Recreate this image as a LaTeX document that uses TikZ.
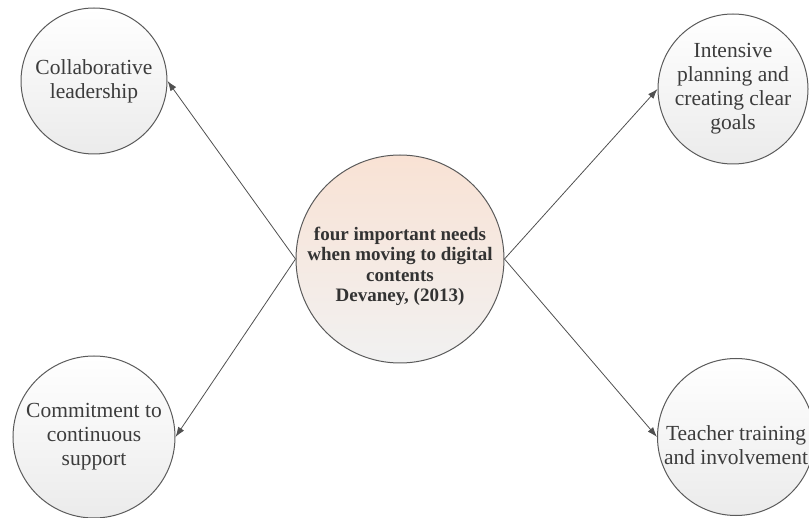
\documentclass[tikz,border=0pt]{standalone}
\usepackage{fontspec}
\setmainfont{Liberation Serif}
\usetikzlibrary{arrows.meta}

\definecolor{rimgray}{HTML}{5A5A5A}
\definecolor{wiregray}{HTML}{505050}
\definecolor{wordgray}{HTML}{3C3C3C}
\definecolor{ballgray}{HTML}{EBEBEB}
\definecolor{peach}{HTML}{F9E2D4}

\tikzset{
  need/.style={draw=rimgray, line width=1pt, circle, inner sep=0pt, align=center,
    text=wordgray, top color=white, bottom color=ballgray,
    font=\fontsize{21.5}{24}\selectfont},
  hub/.style={need, top color=peach, bottom color=ballgray!70,
    text=black!80, font=\fontsize{19}{20.5}\selectfont\bfseries},
  link/.style={draw=wiregray, line width=0.8pt, -{Latex[length=10pt,width=7pt]}}
}
% strut that lowers the text block a little inside its circle
\newcommand{\dropby}[1]{\rule{0pt}{#1}}

\begin{document}
\begin{tikzpicture}[x=1pt, y=-1pt]
      \useasboundingbox (0,0) rectangle (809,518);
      \clip (0,0) rectangle (809,518);

      \node[hub, minimum size=208pt] (hub) at (400,259)
        {\dropby{28pt}four important needs\\when moving to digital\\contents\\Devaney, (2013)};

      \node[need, minimum size=146pt] (collab) at (94,81) {Collaborative\\leadership};
      \node[need, minimum size=150pt] (plan) at (733,89) {Intensive\\planning and\\creating clear\\goals};
      \node[need, minimum size=162pt] (commit) at (94,437) {Commitment to\\continuous\\support};
      \node[need, minimum size=157pt] (train) at (736,437) {\dropby{32pt}Teacher training\\and involvement};

      \draw[link] (hub.west) -- (collab.east);
      \draw[link] (hub.west) -- (commit.east);
      \draw[link] (hub.east) -- (plan.west);
      \draw[link] (hub.east) -- (train.west);
    \end{tikzpicture}
\end{document}
